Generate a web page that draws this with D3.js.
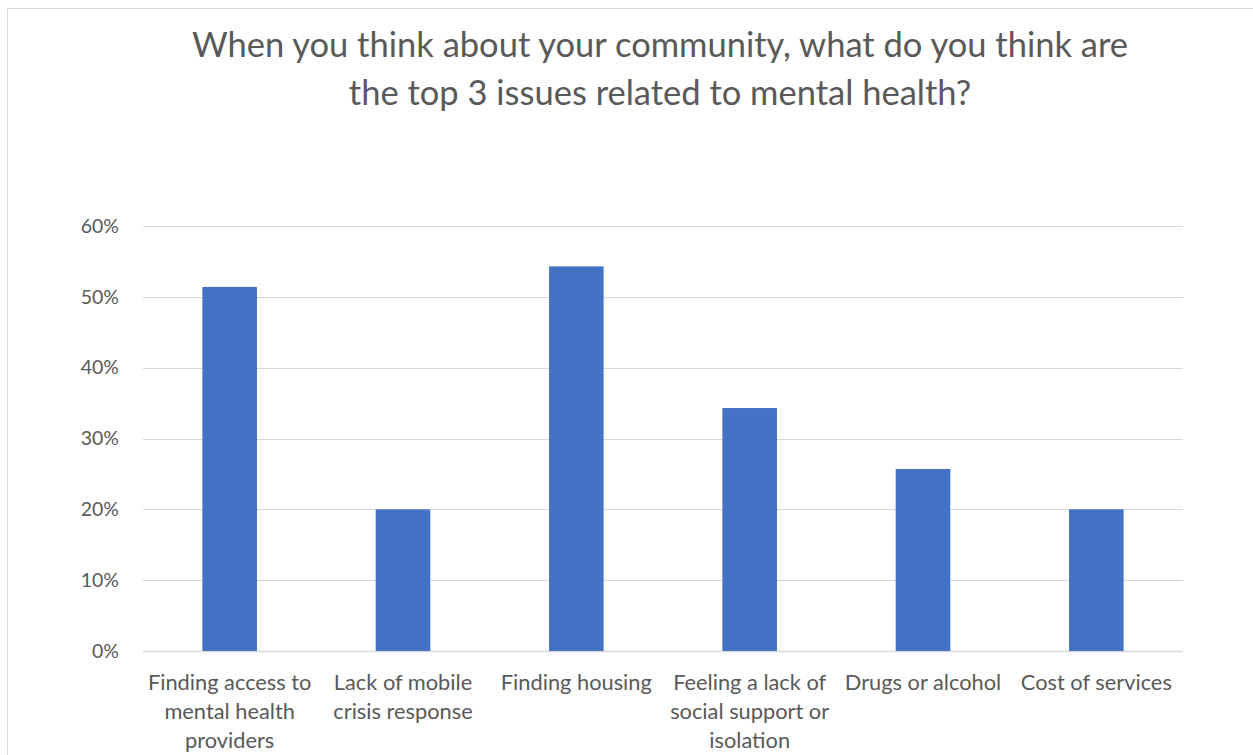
<!DOCTYPE html>
<html>
<head>
<meta charset="utf-8">
<script src="https://cdn.jsdelivr.net/npm/d3@7"></script>
<style>
  body { margin: 0; background: #fff; }
  svg text { font-family: Lato, "Open Sans", sans-serif; fill: #595959; }
</style>
</head>
<body>
<div id="chart-area"></div>
<script>
// chart values
var categories = [
    ["Finding access to", "mental health", "providers"],
    ["Lack of mobile", "crisis response"],
    ["Finding housing"],
    ["Feeling a lack of", "social support or", "isolation"],
    ["Drugs or alcohol"],
    ["Cost of services"]
];
var values = [51.4, 20.0, 54.3, 34.3, 25.7, 20.0];
var yTicks = [0, 10, 20, 30, 40, 50, 60];
var titleLines = [
    "When you think about your community, what do you think are",
    "the top 3 issues related to mental health?"
];

var width = 1253, height = 755;
var margin = {left: 143, right: 70, top: 226, bottom: 104};

var svg = d3.select("#chart-area").append("svg")
    .attr("width", width)
    .attr("height", height);

// chart frame
svg.append("rect")
    .attr("x", 7.5).attr("y", 8.5)
    .attr("width", 1260).attr("height", 760)
    .attr("fill", "#fff")
    .attr("stroke", "#d9d9d9");

var x = d3.scaleBand()
    .domain(d3.range(categories.length))
    .range([margin.left, width - margin.right])
    .paddingInner(0.685)
    .paddingOuter(0.3425);

var y = d3.scaleLinear()
    .domain([0, 60])
    .range([height - margin.bottom, margin.top]);

// gridlines
svg.append("g")
    .selectAll("line")
    .data(yTicks)
    .enter().append("line")
        .attr("x1", margin.left)
        .attr("x2", width - margin.right)
        .attr("y1", function(d){ return Math.round(y(d)) + 0.5; })
        .attr("y2", function(d){ return Math.round(y(d)) + 0.5; })
        .attr("stroke", "#d9d9d9")
        .attr("stroke-width", function(d){ return d == 0 ? 1.5 : 1; });

// y axis labels
var yAxis = d3.axisLeft(y)
    .tickValues(yTicks)
    .tickSize(0)
    .tickPadding(24)
    .tickFormat(function(d){ return d + "%"; });

var yg = svg.append("g")
    .attr("transform", "translate(" + margin.left + ",0)")
    .call(yAxis);
yg.select(".domain").remove();
yg.selectAll("text")
    .attr("font-size", 19.5)
    .attr("fill", "#595959")
    .style("font-family", "Lato, sans-serif");

// bars
svg.append("g")
    .selectAll("rect")
    .data(values)
    .enter().append("rect")
        .attr("x", function(d, i){ return x(i); })
        .attr("y", function(d){ return y(d); })
        .attr("width", x.bandwidth())
        .attr("height", function(d){ return y(0) - y(d); })
        .attr("fill", "#4472c4");

// category labels
var labels = svg.append("g")
    .selectAll("text")
    .data(categories)
    .enter().append("text")
        .attr("text-anchor", "middle")
        .attr("font-size", 21.8)
        .attr("x", function(d, i){ return x(i) + x.bandwidth() / 2; })
        .attr("y", y(0) + 39);

labels.selectAll("tspan")
    .data(function(d){ return d; })
    .enter().append("tspan")
        .attr("x", function(){ return d3.select(this.parentNode).attr("x"); })
        .attr("dy", function(d, i){ return i == 0 ? 0 : 29; })
        .text(function(d){ return d; });

// title
svg.append("text")
    .attr("text-anchor", "middle")
    .attr("font-size", 34.5)
    .attr("x", 660)
    .attr("y", 57)
    .selectAll("tspan")
    .data(titleLines)
    .enter().append("tspan")
        .attr("x", 660)
        .attr("dy", function(d, i){ return i == 0 ? 0 : 48; })
        .text(function(d){ return d; });
</script>
</body>
</html>
